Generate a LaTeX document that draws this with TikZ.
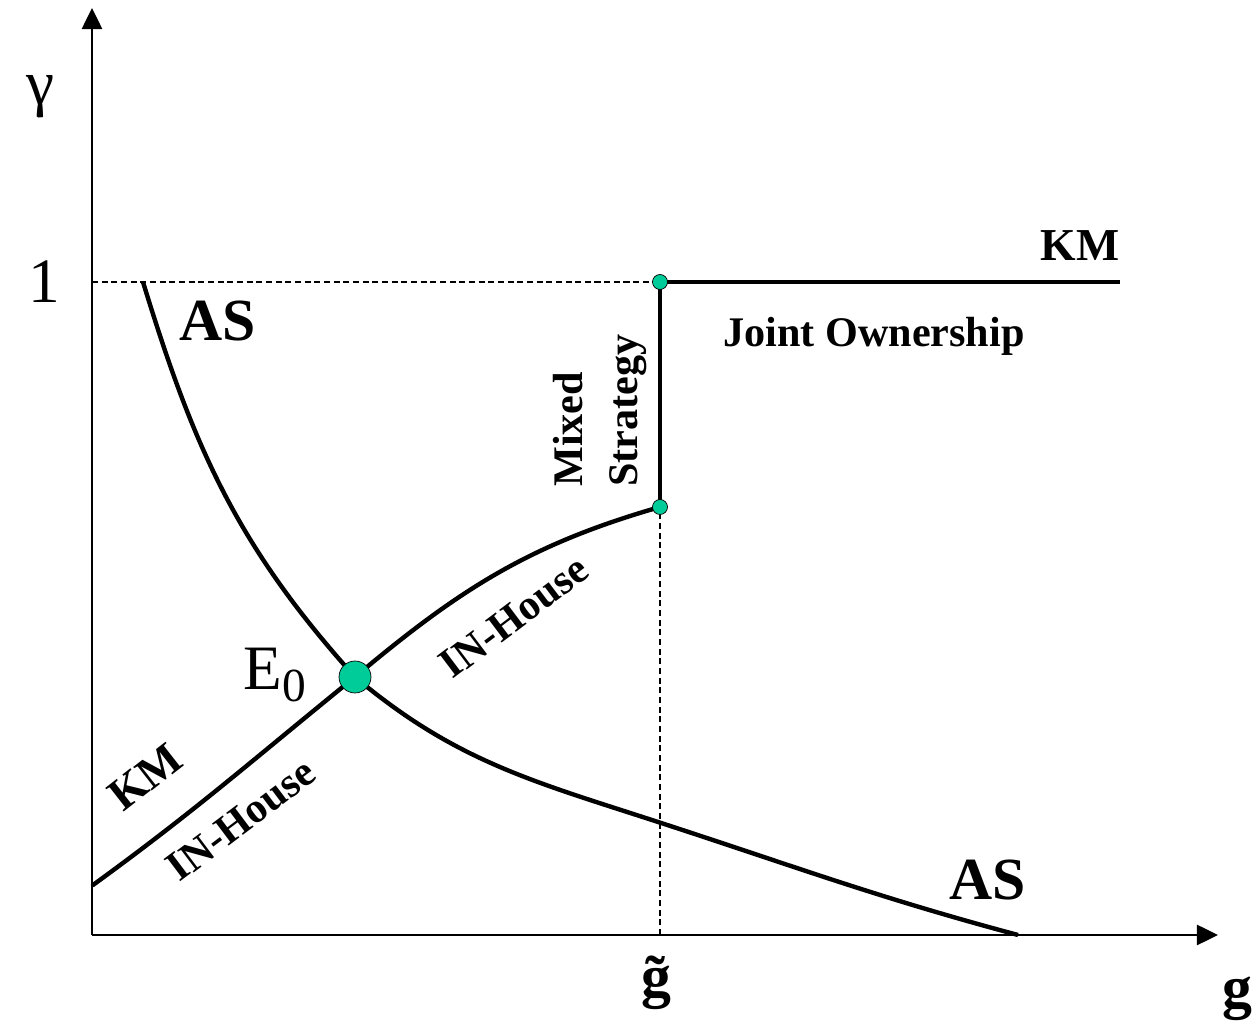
\documentclass[tikz,border=0pt]{standalone}
\usepackage{fontspec}
\setmainfont{Liberation Serif}
\usetikzlibrary{arrows.meta}
\definecolor{dotgreen}{RGB}{0,204,153}

\begin{document}
\begin{tikzpicture}[
	x=0.02cm, y=0.02cm,
	axis/.style={ line width=1.2pt, -{Triangle[length=12pt,width=11.5pt]} },
	guide/.style={ line width=0.6pt, dash pattern=on 3.5pt off 2pt },
	curve/.style={ line width=2.5pt },
	bigdot/.style={ circle, draw, thin, fill=dotgreen, inner sep=0pt, minimum size=0.64cm },
	smalldot/.style={ circle, draw, thin, fill=dotgreen, inner sep=0pt, minimum size=0.30cm },
	region/.style={ font=\fontsize{24}{31}\selectfont\bfseries, inner sep=0pt },
	kmname/.style={ font=\fontsize{26}{30}\selectfont\bfseries, inner sep=0pt },
	curvename/.style={ font=\fontsize{34}{40}\selectfont\bfseries, inner sep=0pt },
	glabel/.style={ font=\fontsize{34}{40}\selectfont\bfseries, inner sep=0pt },
	axislabel/.style={ font=\fontsize{36}{40}\selectfont, inner sep=0pt }
]

\useasboundingbox (-92,-89) rectangle (1163,935);

\coordinate (o) at (0,0);
\coordinate (ytip) at (0,927);
\coordinate (xtip) at (1126,0);
\coordinate (lev1) at (0,653);
\coordinate (gt) at (568,0);
\coordinate (e0) at (263,258);
\coordinate (mtop) at (568,653);
\coordinate (mbot) at (568,428);
\coordinate (kmend) at (1028,653);
\coordinate (astop) at (51,653);
\coordinate (asmid) at (563,114);
\coordinate (asend) at (926,0);
\coordinate (inst) at (1,50);

% axes and guides
\draw[axis] (o) -- (ytip);
\draw[axis] (o) -- (xtip);
\draw[guide] (lev1) -- (mtop);
\draw[guide] (gt) -- (mbot);

% AS curve
\draw[curve] (astop) to [out=-73,in=132] (e0) to [out=-40,in=162] (asmid) to [out=-18,in=165] (asend);
% IN-House curve and the step
\draw[curve, line cap=round] (inst) to [out=36,in=-141] (e0) to [out=40,in=-164] (mbot);
\draw[curve] (mbot) -- (mtop) -- (kmend);

\node at (e0) (E0) [bigdot] {};
\node at (mtop) (M1) [smalldot] {};
\node at (mbot) (M0) [smalldot] {};

\node at (126,614) (as1) [curvename] {AS};
\node at (896,55) (as2) [curvename] {AS};
\node at (988,689) (km1) [kmname] {KM};
\node at (53,158) (km2) [kmname, rotate=38] {KM};
\node at (782,599) (joint) [region] {Joint Ownership};
\node at (508,448) (mixed) [region, rotate=90, anchor=west, align=left] {Mixed\\Strategy};
\node at (422,318) (inh1) [region, rotate=37] {IN-House};
\node at (149,115) (inh2) [region, rotate=37] {IN-House};

\node at (183,260) (e0l) [axislabel] {E\raisebox{-0.4ex}{\fontsize{27}{27}\selectfont 0}};
\node at (-52,838) (gam) [axislabel] {γ};
\node at (-48,653) (one) [axislabel] {1};
\node at (564,-48) (gtl) [glabel] {\~{g}};
\node at (1145,-64) (gl) [glabel] {g};

\end{tikzpicture}
\end{document}
